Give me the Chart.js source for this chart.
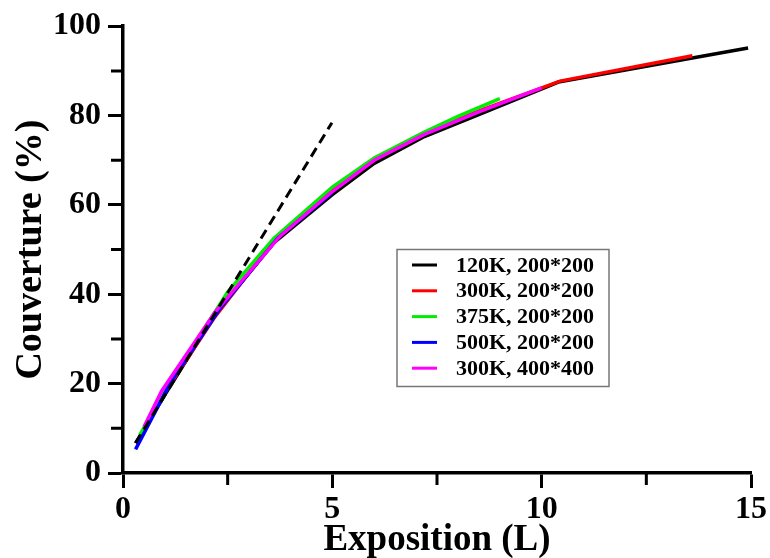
<!DOCTYPE html>
<html>
<head>
<meta charset="utf-8">
<script src="https://cdn.jsdelivr.net/npm/chart.js@4/dist/chart.umd.min.js"></script>
<style>
html,body{margin:0;padding:0;background:#fff;}
#wrap{width:770px;height:558px;position:relative;}
</style>
</head>
<body>
<div id="wrap"><canvas id="c" width="770" height="558"></canvas></div>
<script>
// ---- data ----
const seriesLabels = ["120K, 200*200", "300K, 200*200", "375K, 200*200", "500K, 200*200", "300K, 400*400"];
const seriesColors = ["#000000", "#ff0000", "#00ee00", "#0000ff", "#ff00ff"];

const black120kX = [0.3, 1.0, 2.2, 3.6, 5.0, 6.0, 7.2, 8.6, 10.4, 14.93];
const black120kY = [6.7, 17.5, 35.5, 51.5, 62.3, 69.3, 75.3, 80.6, 87.5, 95.1];

const red300kX = [0.4, 1.0, 2.2, 3.6, 5.0, 6.0, 7.2, 8.6, 10.44, 13.6];
const red300kY = [8.0, 18.0, 35.0, 52.0, 63.6, 70.4, 76.2, 81.4, 87.7, 93.4];

const green375kX = [0.4, 1.0, 2.5, 3.6, 5.0, 6.0, 7.2, 8.0, 9.0];
const green375kY = [8.5, 18.5, 40.5, 52.5, 64.0, 70.5, 76.3, 79.8, 83.8];

const blue500kX = [0.3, 1.12, 2.3, 3.7, 5.0];
const blue500kY = [5.3, 20.0, 36.6, 52.6, 62.8];

const mag300kX = [0.5, 0.92, 2.2, 3.75, 5.0, 6.0, 7.2, 8.5, 10.0];
const mag300kY = [10.3, 18.3, 36.0, 53.0, 63.0, 70.0, 75.8, 80.8, 86.2];

const tangentX = [0.3, 4.99];
const tangentY = [6.7, 78.4];

const xTicksMajor = [0, 5, 10, 15];
const xTicksMinor = [2.5, 7.5, 12.5];
const yTicksMajor = [0, 20, 40, 60, 80, 100];
const yTicksMinor = [10, 30, 50, 70, 90];

const xTitle = "Exposition (L)";
const yTitle = "Couverture (%)";

// ---- build ----
function pts(xs, ys) { return xs.map((x, i) => ({x: x, y: ys[i]})); }
const seriesData = [
  pts(black120kX, black120kY),
  pts(red300kX, red300kY),
  pts(green375kX, green375kY),
  pts(blue500kX, blue500kY),
  pts(mag300kX, mag300kY)
];
const drawOrder = [5, 4, 3, 2, 1]; // magenta on top

const datasets = seriesData.map((d, i) => ({
  label: seriesLabels[i],
  data: d,
  borderColor: seriesColors[i],
  backgroundColor: seriesColors[i],
  borderWidth: 3.5,
  pointRadius: 0,
  tension: 0,
  fill: false,
  order: drawOrder[i]
}));
datasets.push({
  label: "tangent",
  data: pts(tangentX, tangentY),
  borderColor: "#000000",
  borderWidth: 3,
  borderDash: [10, 6],
  pointRadius: 0,
  fill: false,
  order: 0
});

const FONT = "'Liberation Serif', 'Times New Roman', serif";

const minorTicks = {
  id: 'minorTicks',
  afterDraw(chart) {
    const ctx = chart.ctx;
    const xs = chart.scales.x, ys = chart.scales.y;
    ctx.save();
    ctx.strokeStyle = '#000';
    ctx.lineWidth = 3;
    ctx.beginPath();
    xTicksMinor.forEach(v => {
      const p = xs.getPixelForValue(v);
      ctx.moveTo(p, ys.bottom);
      ctx.lineTo(p, ys.bottom + 12);
    });
    yTicksMinor.forEach(v => {
      const p = ys.getPixelForValue(v);
      ctx.moveTo(xs.left, p);
      ctx.lineTo(xs.left - 12, p);
    });
    ctx.stroke();
    ctx.restore();
  }
};

const boxLegend = {
  id: 'boxLegend',
  afterDraw(chart) {
    const ctx = chart.ctx;
    const L = 397, T = 249.5, W = 212, H = 137;
    ctx.save();
    ctx.fillStyle = '#fff';
    ctx.fillRect(L, T, W, H);
    ctx.strokeStyle = '#777';
    ctx.lineWidth = 1.5;
    ctx.strokeRect(L, T, W, H);
    ctx.font = "bold 22px " + FONT;
    ctx.textBaseline = 'middle';
    ctx.textAlign = 'left';
    seriesLabels.forEach((lab, i) => {
      const y = T + 15.5 + i * 25.8;
      ctx.strokeStyle = seriesColors[i];
      ctx.lineWidth = 3;
      ctx.beginPath();
      ctx.moveTo(L + 15, y);
      ctx.lineTo(L + 40, y);
      ctx.stroke();
      ctx.fillStyle = '#000';
      ctx.fillText(lab, L + 59, y + 1);
    });
    ctx.restore();
  }
};

new Chart(document.getElementById('c'), {
  type: 'line',
  data: { datasets: datasets },
  options: {
    responsive: false,
    animation: false,
    devicePixelRatio: 1,
    layout: { padding: { top: 23, right: 19, left: 0, bottom: 0 } },
    plugins: { legend: { display: false }, tooltip: { enabled: false } },
    scales: {
      x: {
        type: 'linear',
        min: 0, max: 15,
        afterFit(s) { s.height = 85; },
        afterBuildTicks(s) { s.ticks = xTicksMajor.map(v => ({value: v})); },
        border: { display: true, color: '#000', width: 3.5 },
        grid: { display: true, drawOnChartArea: false, drawTicks: true, tickLength: 15, tickWidth: 3, tickColor: '#000' },
        ticks: { color: '#000', padding: 3, maxRotation: 0, font: { family: FONT, size: 32, weight: 'bold' } },
        title: { display: true, text: xTitle, color: '#000', padding: { top: 0, bottom: 0 },
                 font: { family: FONT, size: 37, weight: 'bold', lineHeight: 0.95 } }
      },
      y: {
        type: 'linear',
        min: 0, max: 100,
        afterFit(s) { s.width = 123; },
        afterBuildTicks(s) { s.ticks = yTicksMajor.map(v => ({value: v})); },
        border: { display: true, color: '#000', width: 3.5 },
        grid: { display: true, drawOnChartArea: false, drawTicks: true, tickLength: 15, tickWidth: 3, tickColor: '#000' },
        ticks: { color: '#000', padding: 7, font: { family: FONT, size: 32, weight: 'bold' } },
        title: { display: true, text: yTitle, color: '#000', padding: { top: 12, bottom: 0 },
                 font: { family: FONT, size: 38, weight: 'bold', lineHeight: 1.0 } }
      }
    }
  },
  plugins: [minorTicks, boxLegend]
});
</script>
</body>
</html>
